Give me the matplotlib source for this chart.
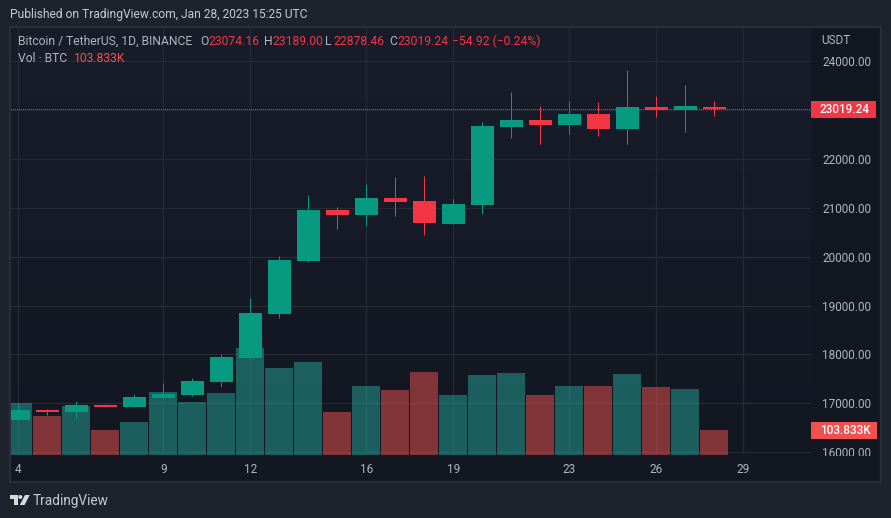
import numpy as np
import matplotlib
matplotlib.use("Agg")
import matplotlib.pyplot as plt
from matplotlib.patches import Rectangle, Polygon, Circle
from matplotlib.transforms import Bbox, Affine2D

days = list(range(4, 29))
opens = [16657, 16868, 16821, 16964, 16923, 17108, 17169, 17435, 17926, 18827, 19912, 20956, 20854,
         21202, 21140, 20670, 21058, 22655, 22798, 22696, 22921, 22614, 23064, 23003, 23074.16]
highs = [17005, 16882, 17046, 16985, 17190, 17415, 17517, 18008, 19155, 20015, 21263, 21017, 21488,
         21631, 21652, 21181, 22757, 23372, 23085, 23187, 23167, 23822, 23290, 23515, 23189.00]
lows = [16657, 16760, 16698, 16923, 16923, 17108, 17149, 17333, 17906, 18745, 19892, 20567, 20629,
        20833, 20444, 20670, 20874, 22430, 22307, 22512, 22471, 22307, 22860, 22553, 22878.46]
closes = [16862, 16821, 16964, 16923, 17128, 17190, 17456, 17947, 18848, 19933, 20956, 20854, 21202,
          21120, 20690, 21079, 22676, 22798, 22696, 22921, 22614, 23064, 23003, 23085, 23019.24]
volumes = [216, 162, 203, 104, 137, 262, 220, 257, 444, 361, 386, 179, 287,
           270, 345, 249, 332, 341, 249, 287, 287, 336, 282, 274, 103.833]
price_ticks = [16000, 17000, 18000, 19000, 20000, 21000, 22000, 23000, 24000]
price_labels = ["16000.00", "17000.00", "18000.00", "19000.00", "20000.00", "21000.00", "22000.00", "", "24000.00"]
day_ticks = [4, 9, 12, 16, 19, 23, 26, 29]
last_price = 23019.24

W, H = 891, 518
OUTER = "#1e222d"
BORDER = "#2a2e39"
GRID = "#262a35"
TXT = "#b2b5be"
GREEN = "#089981"
RED = "#f23645"
VOL_G = "#26a69a"
VOL_R = "#ef5350"
FONT = "Roboto"
SZ = 8.72
SCALE_SZ = 8.45
plt.rcParams["font.family"] = [FONT, "DejaVu Sans"]

fig = plt.figure(figsize=(W / 100, H / 100), dpi=100, facecolor=OUTER)


def box(l, t, r, b):
    return [l / W, 1 - b / H, (r - l) / W, (b - t) / H]


def ftext(x, y, s, color=TXT, size=SZ, **kw):
    kw.setdefault("va", "center")
    return fig.text(x / W, 1 - y / H, s, color=color, fontsize=size, **kw)


px = Affine2D().scale(1, -1).translate(0, H)  # figure pixels, y from the top

# pane frame
fig.add_artist(Rectangle((10, 27), 871, 455, transform=px, fc="#131722", ec=BORDER, lw=1.6, zorder=-5))

L, T, R, B = 11, 28, 811, 455
ax = fig.add_axes(box(L, T, R, B))
ax.set_facecolor("none")
ax.patch.set_alpha(0)

day_to_px = 29.0
x0 = 4 + (L - 18.3) / day_to_px
x1 = 4 + (R - 18.3) / day_to_px
ppx = 1000 / 48.86
y_bot = 24000 - (B - 61.3) * ppx
y_top = 24000 - (T - 61.3) * ppx

# background gradient
grad = np.linspace(0, 1, 256).reshape(-1, 1)
c_top = np.array([0x19, 0x1d, 0x2a]) / 255
c_bot = np.array([0x13, 0x17, 0x22]) / 255
rgb = c_top[None, None, :] * (1 - grad[..., None]) + c_bot[None, None, :] * grad[..., None]
ax.imshow(rgb, extent=[x0, x1, y_bot, y_top], aspect="auto", origin="upper", zorder=0)

# volume
vax = ax.twinx()
vax.set_ylim(0, (B - T) * 4.153)
vax.set_axis_off()
vax.set_zorder(1)
for d, o, c, v in zip(days, opens, closes, volumes):
    vax.bar(d, v, width=28 / day_to_px, color=VOL_G if c >= o else VOL_R, alpha=0.5, lw=0, zorder=2)

# candles on top
cax = ax.twinx()
cax.set_axis_off()
cax.set_zorder(2)
for d, o, h, l, c in zip(days, opens, highs, lows, closes):
    col = GREEN if c >= o else RED
    cax.vlines(d, l, h, color=col, lw=0.72, zorder=3, snap=True)
    cax.bar(d, abs(c - o), bottom=min(o, c), width=23 / day_to_px, color=col, lw=0, zorder=4)
cax.axhline(last_price, color=RED, lw=0.72, dashes=(1, 2), zorder=2.5, snap=True, antialiased=False)
cax.set_ylim(y_bot, y_top)

ax.set_xlim(x0, x1)
ax.set_ylim(y_bot, y_top)
vax.set_xlim(x0, x1)
ax.set_xticks(day_ticks)
ax.set_xticklabels([str(d) for d in day_ticks])
ax.yaxis.tick_right()
ax.set_yticks(price_ticks)
ax.set_yticklabels(price_labels)
ax.tick_params(axis="both", length=0, labelcolor=TXT, labelsize=SCALE_SZ)
ax.tick_params(axis="x", pad=5.6)
ax.tick_params(axis="y", pad=8)
for lab in ax.get_yticklabels():
    lab.set_clip_on(True)
    lab.set_clip_box(Bbox([[R, H - B - 1], [W, H - T]]))
ax.grid(True, color=GRID, lw=0.9, zorder=1)
ax.set_axisbelow(True)
for s in ax.spines.values():
    s.set_visible(False)

# header
ftext(10, 14.5, "Published on TradingView.com, Jan 28, 2023 15:25 UTC", color="#c8cbd3", size=8.65)
ftext(18, 41.5, "Bitcoin / TetherUS, 1D, BINANCE")
for x, s, col in [(200, "O", TXT), (208, "23074.16", RED), (264, "H", TXT), (272, "23189.00", RED),
                  (325, "L", TXT), (333, "22878.46", RED), (389, "C", TXT), (397, "23019.24", RED),
                  (452, "\u221254.92 (\u22120.24%)", RED)]:
    ftext(x, 41.5, s, color=col)
ftext(18, 58, "Vol \u00b7 BTC")
ftext(74, 58, "103.833K", color=VOL_R)
ftext(821, 40.5, "USDT", size=SCALE_SZ)

# price tags
fig.add_artist(Rectangle((811, 101), 65, 16.7, transform=px, fc=RED, ec="none", zorder=5))
ftext(870, 109.6, "23019.24", color="white", size=SCALE_SZ, ha="right", fontweight="medium", zorder=6)
fig.add_artist(Rectangle((811, 422), 66, 16.7, transform=px, fc="#f0514f", ec="none", zorder=5))
ftext(871, 430.6, "103.833K", color="white", size=SCALE_SZ, ha="right", fontweight="medium", zorder=6)

# logo
LOGO = "#d8d9de"
fig.add_artist(Polygon([(10, 495), (17.5, 495), (17.5, 505), (13.5, 505), (13.5, 499), (10, 499)],
                       closed=True, transform=px, fc=LOGO, ec="none"))
fig.add_artist(Circle((20.3, 497), 2, transform=px, fc=LOGO, ec="none"))
fig.add_artist(Polygon([(25, 495), (29.7, 495), (24.6, 505), (19.8, 505)], closed=True, transform=px, fc=LOGO, ec="none"))
ftext(33, 500.5, "TradingView", color="#c8cbd3", size=9.8)

fig.savefig("out.png", dpi=100, facecolor=OUTER)
